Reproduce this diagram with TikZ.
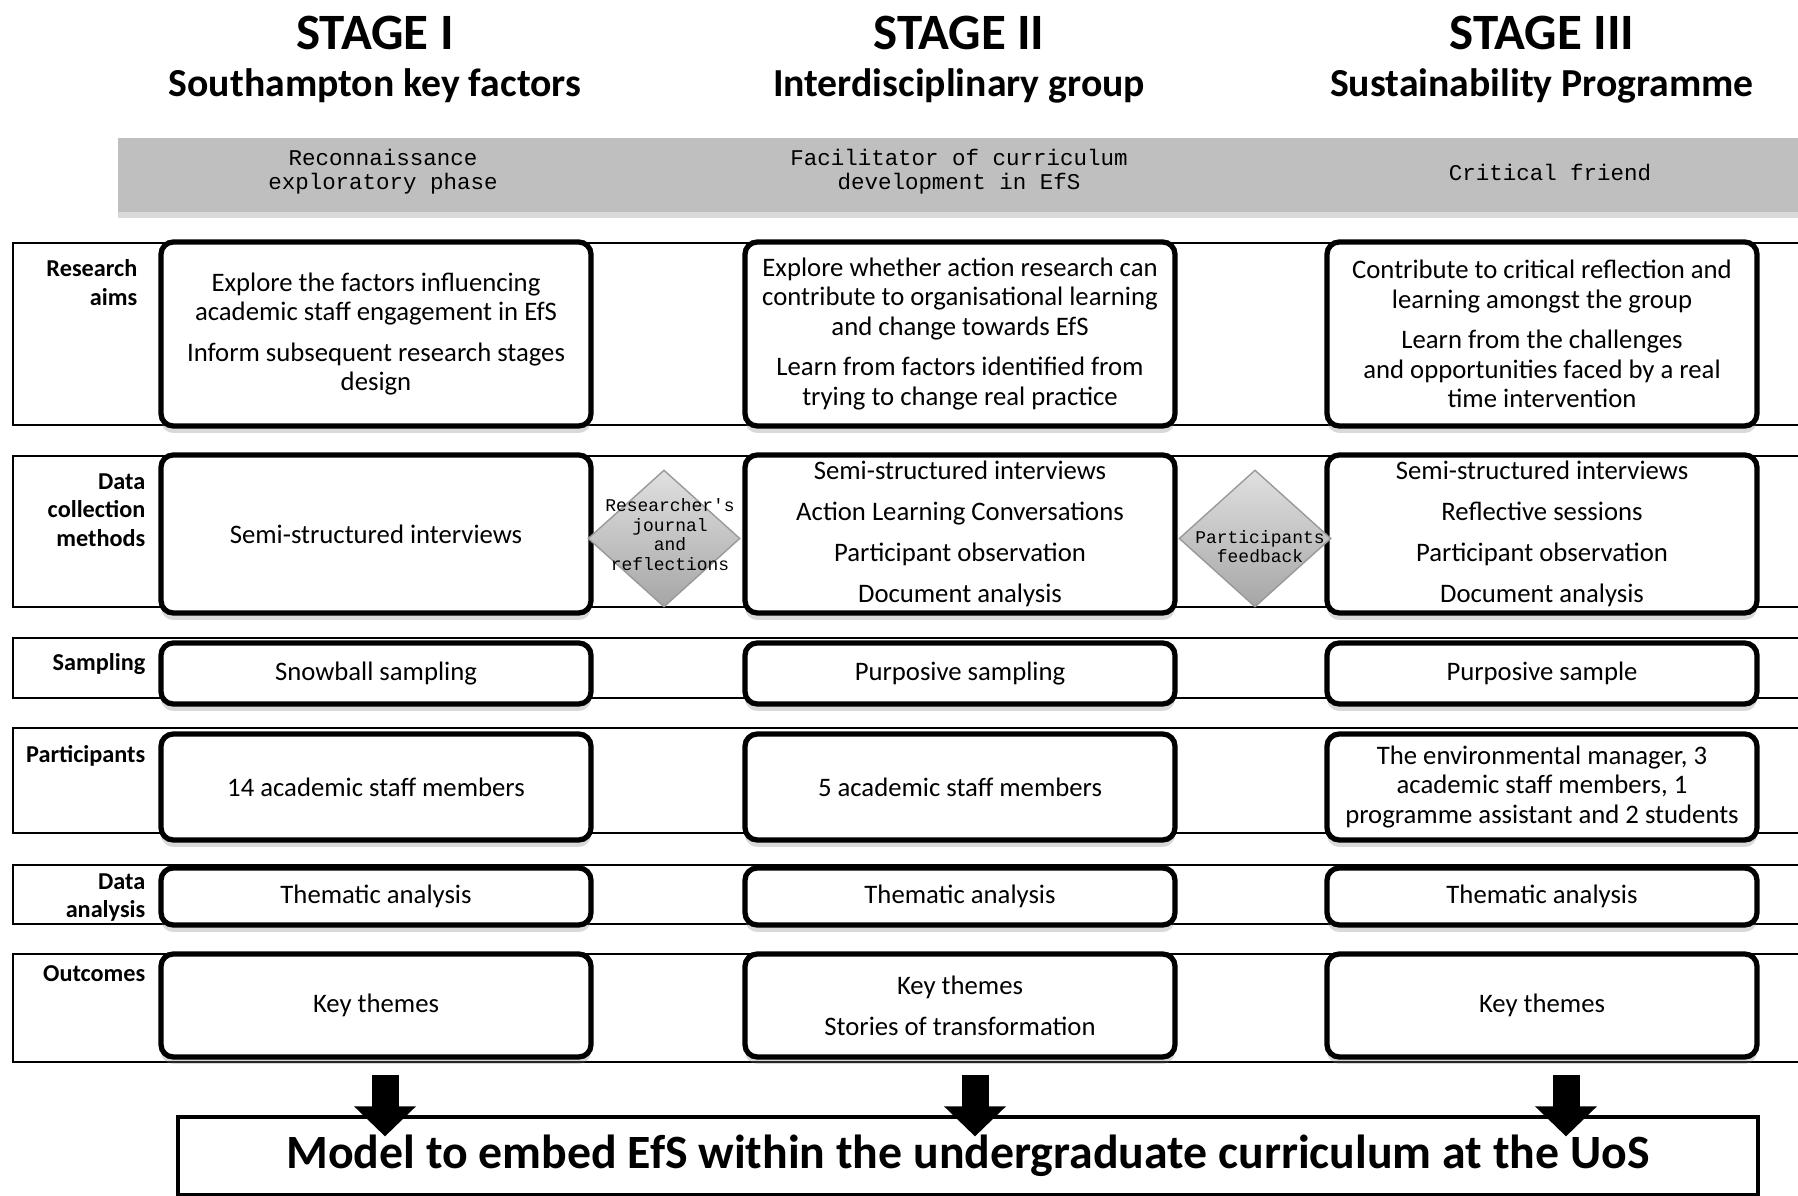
\documentclass[tikz,border=0pt]{standalone}
\usepackage{fontspec}
\setmainfont{Carlito}
\newfontfamily\typew{Liberation Mono}
\usetikzlibrary{arrows.meta,positioning,shadows,shapes.geometric}

\newcommand{\bodyfont}{\fontsize{7.6}{8.4}\selectfont}
\newcommand{\labfont}{\fontsize{6.9}{8.05}\selectfont\bfseries}

\tikzset{
  stagebox/.style={draw, line width=1.5pt, rounded corners=3.5pt, fill=white,
    minimum width=4.3cm, align=center, inner sep=1pt, font=\bodyfont,
    drop shadow={shadow xshift=0pt, shadow yshift=-0.7mm, opacity=0.3}},
  rowlabel/.style={anchor=north east, align=right, inner sep=0pt, font=\labfont},
  rowframe/.style={draw, line width=0.7pt},
  stagetitle/.style={font=\fontsize{14.5}{16}\selectfont\bfseries, inner sep=0pt},
  stagesub/.style={font=\fontsize{11.3}{13}\selectfont\bfseries, inner sep=0pt},
  role/.style={align=center, inner sep=0pt, font=\typew\fontsize{6.4}{6.9}\selectfont},
  tool/.style={diamond, draw=black!40, top color=black!12, bottom color=black!35,
    minimum width=1.52cm, minimum height=1.37cm, inner sep=0pt},
  toolText/.style={align=center, inner sep=0pt, font=\typew\fontsize{5.1}{5.6}\selectfont},
  bigarrow/.style={line width=2.7mm, -{Triangle[width=6mm,length=3mm]}}
}

\begin{document}
\begin{tikzpicture}
\clip (0,0) rectangle (17.98,-11.96);

% Stage headings
\node[stagetitle] (st1) at (3.75,-0.33) {STAGE I};
\node[stagetitle] (st2) at (9.59,-0.33) {STAGE II};
\node[stagetitle] (st3) at (15.42,-0.33) {STAGE III};
\node[stagesub] (sub1) at (3.75,-0.86) {Southampton key factors};
\node[stagesub] (sub2) at (9.59,-0.86) {Interdisciplinary group};
\node[stagesub] (sub3) at (15.42,-0.86) {Sustainability Programme};

% Grey band with the researcher's role
\fill[black!25, drop shadow={shadow xshift=0pt, shadow yshift=-0.6mm, opacity=0.3}]
  (1.18,-1.38) rectangle (18.3,-2.12);
\node[role] (role1) at (3.83,-1.72) {Reconnaissance\\exploratory phase};
\node[role] (role2) at (9.59,-1.72) {Facilitator of curriculum\\development in EfS};
\node[role] (role3) at (15.5,-1.73) {Critical friend};

% Row frames
\foreach \t/\b in {2.43/4.25, 4.56/6.07, 6.38/6.98, 7.28/8.33, 8.65/9.24, 9.54/10.62}
  \draw[rowframe] (0.13,-\t) rectangle (18.3,-\b);

\node[rowlabel] (lab1) at (1.38,-2.59) {Research\\aims};
\node[rowlabel] (lab2) at (1.46,-4.73) {Data\\collection\\methods};
\node[rowlabel] (lab3) at (1.46,-6.53) {Sampling};
\node[rowlabel] (lab4) at (1.46,-7.45) {Participants};
\node[rowlabel] (lab5) at (1.46,-8.73) {Data\\analysis};
\node[rowlabel] (lab6) at (1.46,-9.65) {Outcomes};

% Research aims
\node[stagebox, minimum height=1.84cm] (a1) at (3.76,-3.34)
  {Explore the factors influencing\\academic staff engagement in EfS\\[3.1pt]Inform subsequent research stages\\design};
\node[stagebox, minimum height=1.84cm] (a2) at (9.60,-3.34)
  {Explore whether action research can\\contribute to organisational learning\\and change towards EfS\\[3.1pt]Learn from factors identified from\\trying to change real practice};
\node[stagebox, minimum height=1.84cm] (a3) at (15.42,-3.34)
  {Contribute to critical reflection and\\learning amongst the group\\[3.1pt]Learn from the challenges\\and opportunities faced by a real\\time intervention};

% Data collection methods
\node[stagebox, minimum height=1.58cm] (d1) at (3.76,-5.34) {Semi-structured interviews};
\node[stagebox, minimum height=1.58cm] (d2) at (9.60,-5.34)
  {Semi-structured interviews\\[3.2pt]Action Learning Conversations\\[3.2pt]Participant observation\\[3.2pt]Document analysis};
\node[stagebox, minimum height=1.58cm] (d3) at (15.42,-5.34)
  {Semi-structured interviews\\[3.2pt]Reflective sessions\\[3.2pt]Participant observation\\[3.2pt]Document analysis};

% Sampling
\node[stagebox, minimum height=0.61cm] (s1) at (3.76,-6.735) {Snowball sampling};
\node[stagebox, minimum height=0.61cm] (s2) at (9.60,-6.735) {Purposive sampling};
\node[stagebox, minimum height=0.61cm] (s3) at (15.42,-6.735) {Purposive sample};

% Participants
\node[stagebox, minimum height=1.06cm] (p1) at (3.76,-7.87) {14 academic staff members};
\node[stagebox, minimum height=1.06cm] (p2) at (9.60,-7.87) {5 academic staff members};
\node[stagebox, minimum height=1.06cm] (p3) at (15.42,-7.87)
  {The environmental manager, 3\\academic staff members, 1\\programme assistant and 2 students};

% Data analysis
\node[stagebox, minimum height=0.57cm] (t1) at (3.76,-8.965) {Thematic analysis};
\node[stagebox, minimum height=0.57cm] (t2) at (9.60,-8.965) {Thematic analysis};
\node[stagebox, minimum height=0.57cm] (t3) at (15.42,-8.965) {Thematic analysis};

% Outcomes
\node[stagebox, minimum height=1.03cm] (o1) at (3.76,-10.055) {Key themes};
\node[stagebox, minimum height=1.03cm] (o2) at (9.60,-10.055) {Key themes\\[3.2pt]Stories of transformation};
\node[stagebox, minimum height=1.03cm] (o3) at (15.42,-10.055) {Key themes};

% Diamonds between the stages
\node[tool, label={[toolText, xshift=0.6mm, yshift=0.4mm]center:Researcher's\\journal\\and\\reflections}] (journal) at (6.64,-5.385) {};
\node[tool, label={[toolText, xshift=0.5mm, yshift=-0.8mm]center:Participants\\feedback}] (feedback) at (12.55,-5.385) {};

% Final model
\node[draw, line width=0.9pt, fill=white, minimum width=15.8cm, minimum height=0.78cm,
  font=\fontsize{13.6}{15}\selectfont\bfseries] (model) at (9.68,-11.56)
  {Model to embed EfS within the undergraduate curriculum at the UoS};

\foreach \o/\dx in {o1/0.9mm, o2/1.5mm, o3/2.4mm}
  \draw[bigarrow] ([xshift=\dx, yshift=-1.5mm]\o.south) -- ([xshift=\dx, yshift=-2.1mm]\o.south |- model.north);

\end{tikzpicture}
\end{document}
